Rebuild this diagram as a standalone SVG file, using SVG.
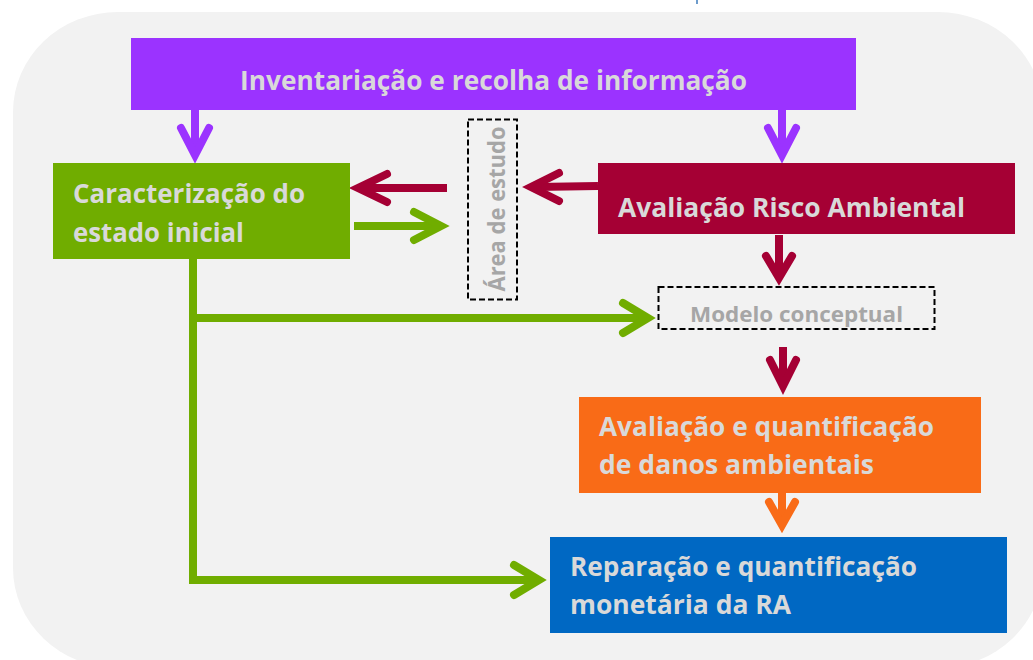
<svg xmlns="http://www.w3.org/2000/svg" width="1033" height="660" viewBox="0 0 1033 660">
  <style>
    .lbl { font-family: "Open Sans", "Liberation Sans", sans-serif; font-weight: 700; fill: #D9D9D9; }
    .lbl2 { font-family: "Open Sans", "Liberation Sans", sans-serif; font-weight: 700; fill: #A6A6A6; }
    .dash { fill: none; stroke: #000000; stroke-width: 2; stroke-dasharray: 6 3; }
    .ln { fill: none; stroke-width: 8; stroke-linecap: butt; }
    .hd { fill: none; stroke-width: 8; stroke-linecap: round; stroke-linejoin: miter; stroke-miterlimit: 10; }
    .g { stroke: #70AD00; }
    .r { stroke: #A50034; }
    .p { stroke: #9B33FF; }
    .o { stroke: #F96B17; }
  </style>
  <rect x="0" y="0" width="1033" height="660" fill="#FFFFFF"/>
  <rect x="13" y="12" width="1030" height="656" rx="105" ry="100" fill="#F2F2F2"/>
  <rect x="696" y="0" width="2" height="4" fill="#6D9CCC"/>

  <g id="connectors">
    <!-- purple down arrows -->
    <path class="ln p" d="M195,110 V150"/>
    <path class="hd p" d="M181,128 L195,155 L209,128"/>
    <path class="ln p" d="M782,110 V150"/>
    <path class="hd p" d="M768,128 L782,155 L796,128"/>
    <!-- crimson: Area -> green -->
    <path class="ln r" d="M447,188 H362"/>
    <path class="hd r" d="M387,174 L358,188 L387,202"/>
    <!-- green: green -> Area -->
    <path class="ln g" d="M354,226 H436"/>
    <path class="hd g" d="M414,212 L441,226 L414,240"/>
    <!-- crimson: ARA -> Area -->
    <path class="ln r" d="M598,186 L536,187"/>
    <path class="hd r" d="M559,173 L531,187 L559,201"/>
    <!-- crimson down to modelo -->
    <path class="ln r" d="M779,235 V272"/>
    <path class="hd r" d="M766,256 L779,278 L792,256"/>
    <!-- crimson down to orange -->
    <path class="ln r" d="M783,347 V382"/>
    <path class="hd r" d="M770,360 L783,386 L796,360"/>
    <!-- orange down to blue -->
    <path class="ln o" d="M782,493 V520"/>
    <path class="hd o" d="M769,502 L782,525 L795,502"/>
    <!-- green trunk -->
    <path class="ln g" d="M193,259 V580 H535" style="stroke-linejoin:miter"/>
    <path class="hd g" d="M514,565 L539,580 L514,595"/>
    <path class="ln g" d="M197,318 H643"/>
    <path class="hd g" d="M623,303 L648,318 L623,333"/>
  </g>

  <g id="node-inventario">
    <rect x="131" y="38" width="725" height="72" fill="#9B33FF"/>
    <text class="lbl" x="240" y="90" font-size="26" textLength="507" lengthAdjust="spacingAndGlyphs">Inventariação e recolha de informação</text>
  </g>

  <g id="node-caracterizacao">
    <rect x="53" y="163" width="297" height="96" fill="#70AD00"/>
    <text class="lbl" x="73" y="203" font-size="27" textLength="232" lengthAdjust="spacingAndGlyphs">Caracterização do</text>
    <text class="lbl" x="73" y="241.5" font-size="27" textLength="171" lengthAdjust="spacingAndGlyphs">estado inicial</text>
  </g>

  <g id="node-area">
    <rect x="468" y="119.5" width="49" height="180" class="dash"/>
    <text class="lbl2" transform="translate(505,291.5) rotate(-90)" x="0" y="0" font-size="23" textLength="165" lengthAdjust="spacingAndGlyphs">Área de estudo</text>
  </g>

  <g id="node-ara">
    <rect x="598" y="163" width="417" height="71" fill="#A50034"/>
    <text class="lbl" x="618" y="216.5" font-size="27" textLength="347" lengthAdjust="spacingAndGlyphs">Avaliação Risco Ambiental</text>
  </g>

  <g id="node-modelo">
    <rect x="658.5" y="287" width="276" height="42" class="dash"/>
    <text class="lbl2" x="690" y="321.5" font-size="22" textLength="213" lengthAdjust="spacingAndGlyphs">Modelo conceptual</text>
  </g>

  <g id="node-danos">
    <rect x="579" y="397" width="402" height="96" fill="#F96B17"/>
    <text class="lbl" x="599" y="435.5" font-size="27" textLength="335" lengthAdjust="spacingAndGlyphs">Avaliação e quantificação</text>
    <text class="lbl" x="599" y="474" font-size="27" textLength="275" lengthAdjust="spacingAndGlyphs">de danos ambientais</text>
  </g>

  <g id="node-reparacao">
    <rect x="550" y="537" width="457" height="96" fill="#0068C3"/>
    <text class="lbl" x="570" y="576" font-size="27" textLength="347" lengthAdjust="spacingAndGlyphs">Reparação e quantificação</text>
    <text class="lbl" x="570" y="613.5" font-size="27" textLength="221" lengthAdjust="spacingAndGlyphs">monetária da RA</text>
  </g>
</svg>
